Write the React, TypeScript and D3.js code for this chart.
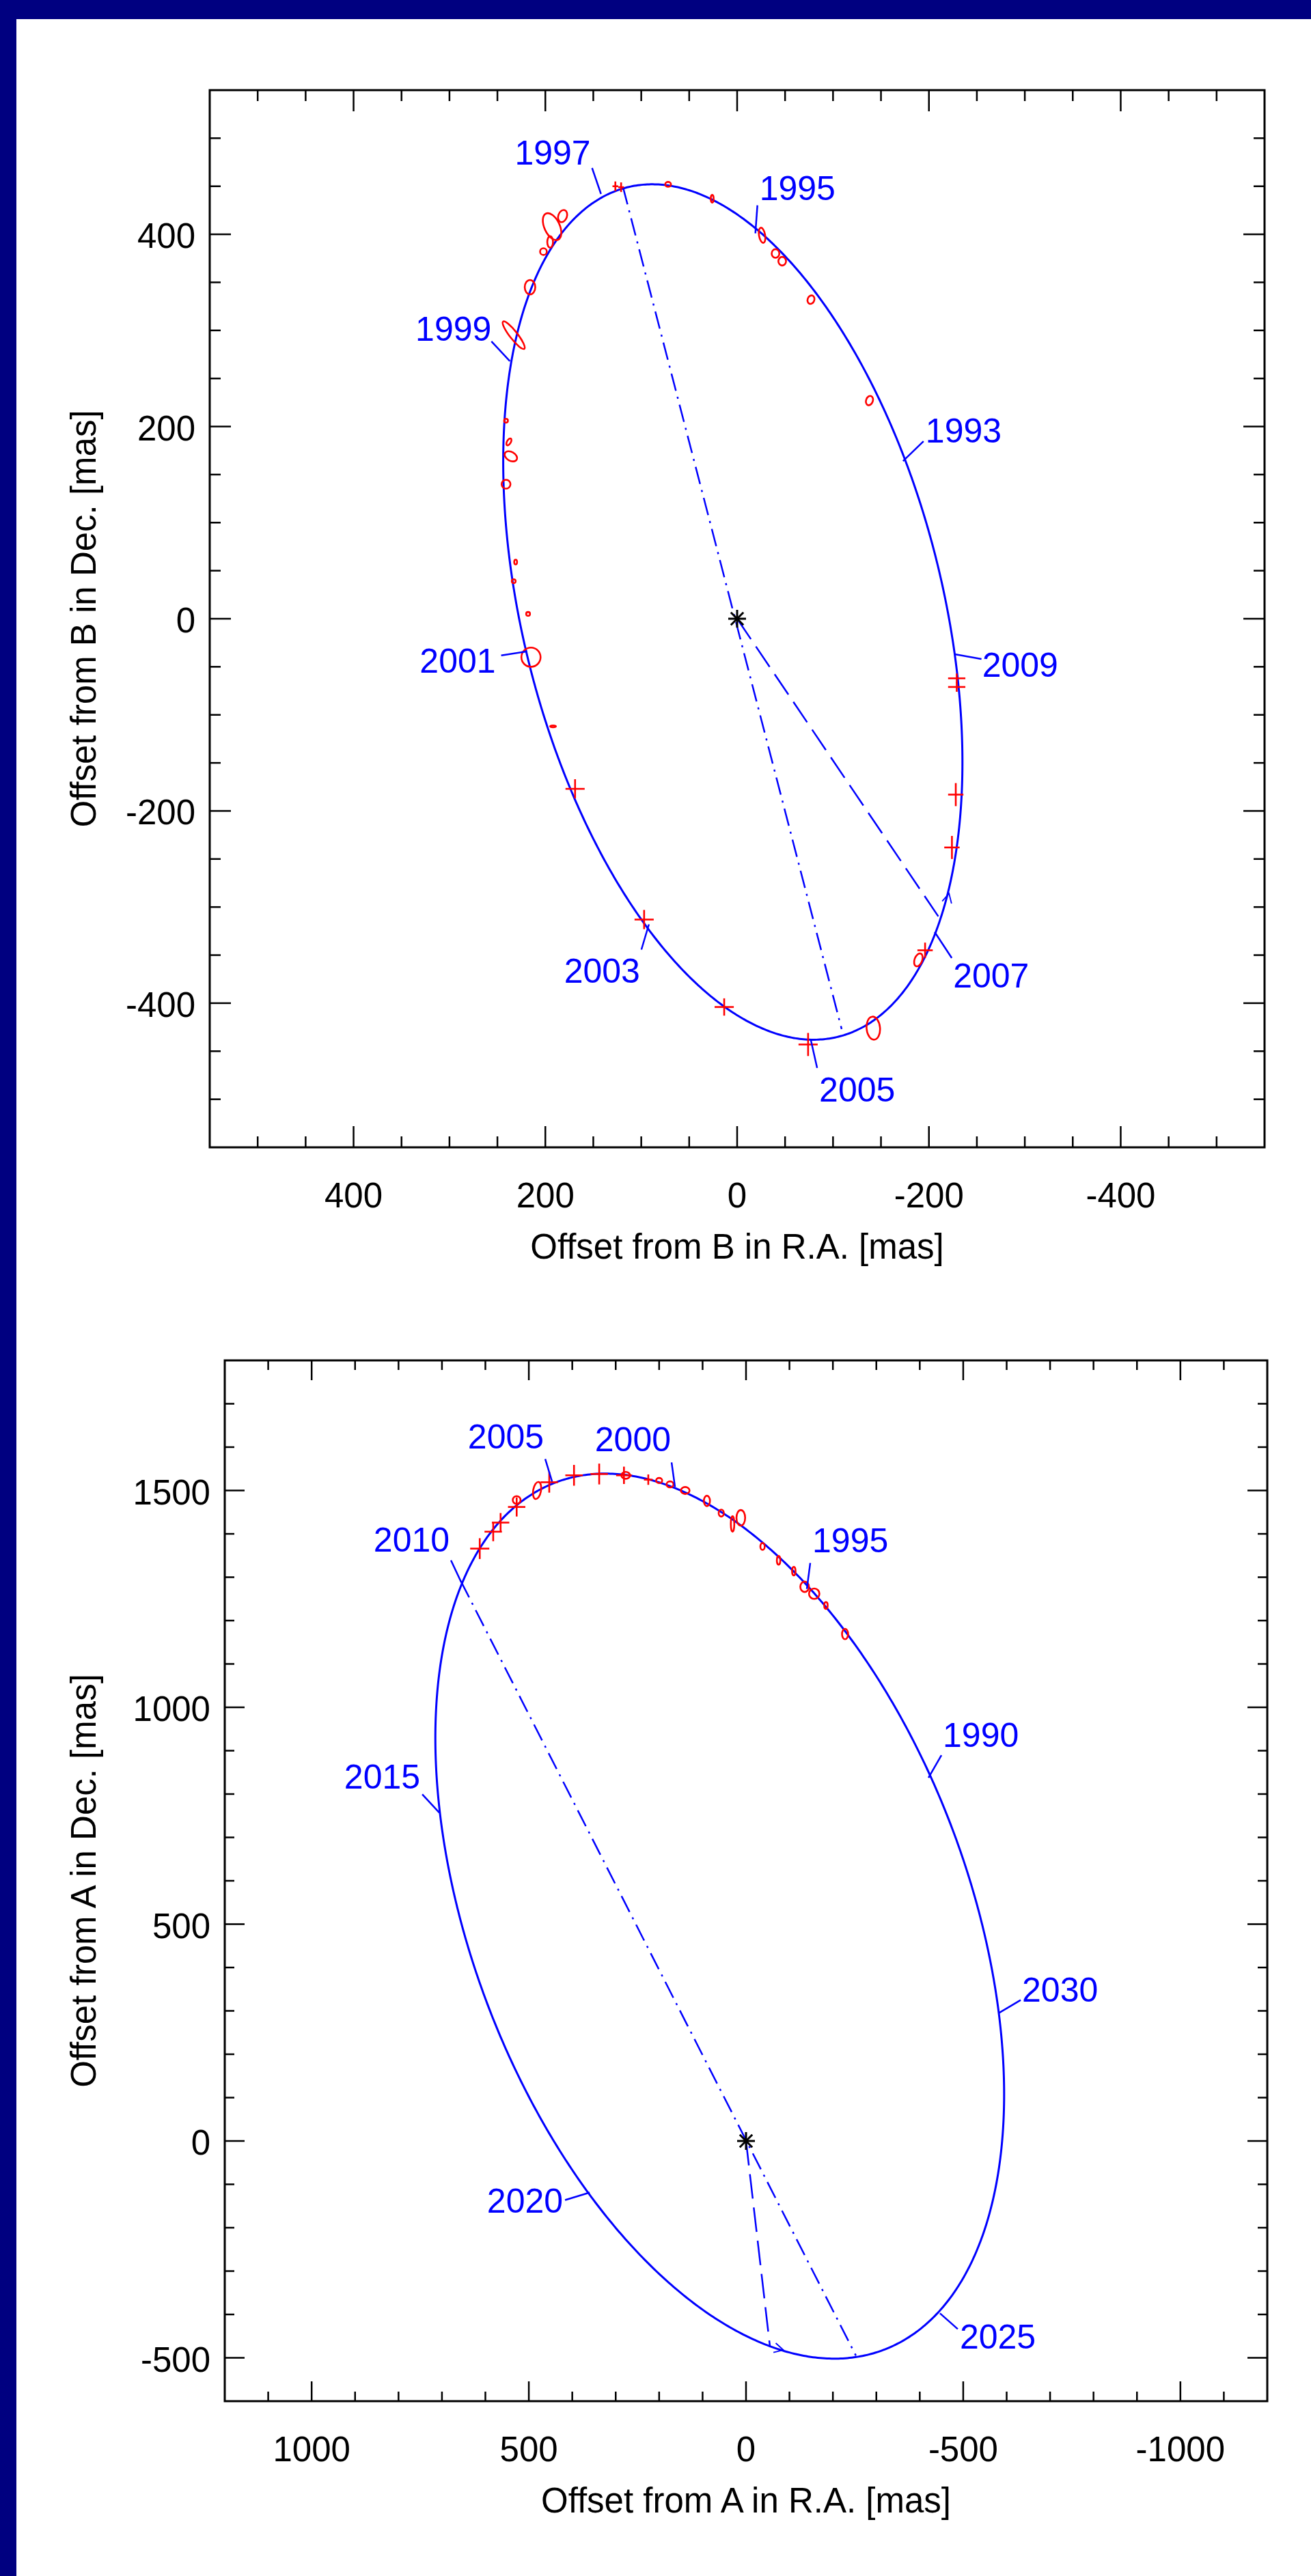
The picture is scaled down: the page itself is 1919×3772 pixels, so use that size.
import React from "react";
import * as d3 from "d3";

const WIDTH = 1919;
const HEIGHT = 3772;
const NAVY = "#000080";
const BLUE = "#0000ff";
const RED = "#ff0000";
const FONT = "'Liberation Sans', Arial, Helvetica, sans-serif";

// ---------- top panel : offsets from B ----------
const raDomainB = [550, -550];
const decDomainB = [-550, 550];
const majorTicksB = [-400, -200, 0, 200, 400];
const minorStepB = 50;

// apparent orbit: centre (ra, dec), semi-axes (mas), angle of major axis from +RA (deg)
const orbitB = { ra: 4.5, dec: 7, a: 455.4, b: 219.1, angle: 76 };
const nodeLineB = [[119, 449], [-109, -427]];
const periastronB = [-210, -310];
const motionB = [[-217, -302], [-221, -286]];

const epochsB = [1993, 1995, 1997, 1999, 2001, 2003, 2005, 2007, 2009];
const epochRaB = [-173, -19, 142, 237, 219, 92, -77, -206, -227];
const epochDecB = [164, 401, 442, 268, -34, -318, -439, -326, -37];

// ra, dec, error ra, error dec (mas)
const crossesB = [
  [169, -177, 10, 10],
  [97, -313, 10, 10],
  [13.5, -404, 10, 9],
  [-74, -443, 10, 12],
  [-196, -345, 8, 8],
  [-228, -183, 8, 12],
  [-224, -238, 8, 12],
  [-229, -62, 9, 5],
  [-229, -71, 9, 5],
  [127, 450, 3, 5],
  [121, 449, 3, 5],
];
// ra, dec, semi-axis ra, semi-axis dec (mas), tilt (deg)
const ellipsesB = [
  [72, 452, 3, 2.5, 0],
  [26, 437, 1.5, 4, 0],
  [-26, 399, 3.2, 8, -10],
  [-40, 380, 4, 4.5, 0],
  [-47, 372, 4, 4.5, 0],
  [-77, 332, 3.5, 4.5, 20],
  [-138, 227, 3.5, 5, 20],
  [182, 419, 4.5, 6.5, 20],
  [193, 408, 8, 15, -25],
  [195, 392, 3, 6, 0],
  [202, 382, 3.5, 3.5, 0],
  [216, 345, 5.5, 7.5, 0],
  [233, 295, 18, 4, 52],
  [241, 206, 2, 2, 0],
  [238, 184, 2, 4, 30],
  [236, 169, 7, 4.6, 30],
  [241, 140, 4.6, 4.6, 0],
  [231, 59, 1.5, 2.5, 0],
  [233, 39, 2, 2, 0],
  [218, 5, 2, 2, 0],
  [215, -40, 10, 10, 0],
  [192, -112, 3, 1, 0],
  [-142, -426, 7, 12, -5],
  [-189, -355, 4, 7, 20],
];

// ---------- bottom panel : offsets from A ----------
const raDomainA = [1200, -1200];
const decDomainA = [-600, 1800];
const majorTicksA = [-1000, -500, 0, 500, 1000, 1500];
const minorStepA = 100;

const orbitA = { ra: 60.5, dec: 518.5, a: 1069, b: 572, angle: 69.35 };
const nodeLineA = [[656, 1290], [-253, -495]];
const periastronA = [-55, -473];
const motionA = [[-62, -476], [-86, -482]];

const epochsA = [1990, 1995, 2000, 2005, 2010, 2015, 2020, 2025, 2030];
const epochRaA = [-420, -140, 163.5, 446.5, 655.7, 706, 360, -446.5, -582];
const epochDecA = [837.5, 1273, 1508, 1520.5, 1288.6, 757, -119, -397.5, 295];

const crossesA = [
  [613, 1366, 22, 24],
  [582, 1405, 20, 22],
  [565, 1426, 20, 22],
  [528, 1462, 20, 22],
  [453, 1519, 20, 24],
  [396, 1535, 20, 24],
  [338, 1538, 20, 24],
  [281, 1535, 18, 20],
  [225, 1525, 10, 12],
];
const ellipsesA = [
  [528, 1478, 9, 9, 0],
  [481, 1500, 9, 20, 10],
  [277, 1535, 10, 8, 0],
  [200, 1523, 7, 6, 0],
  [175, 1514, 8, 7, 0],
  [140, 1500, 10, 8, 0],
  [90, 1476, 7, 12, 0],
  [57, 1448, 6, 8, 0],
  [31, 1423, 4, 18, 0],
  [12, 1437, 10, 18, 0],
  [-38, 1371, 5, 8, 0],
  [-75, 1339, 4, 10, 0],
  [-110, 1314, 4, 10, 0],
  [-135, 1278, 10, 12, 0],
  [-157, 1262, 12, 12, 0],
  [-184, 1235, 4, 8, 0],
  [-228, 1169, 7, 12, 0],
];

// label leader (px from the orbit point) and text offset from leader end
const layoutB = [
  { lx: 30, ly: -29, anchor: "start", tx: 3, ty: 2 },
  { lx: 3, ly: -41, anchor: "start", tx: 3, ty: -8 },
  { lx: -13, ly: -38, anchor: "end", tx: -2, ty: -5 },
  { lx: -27, ly: -29, anchor: "end", tx: 0, ty: -1 },
  { lx: -38, ly: 6, anchor: "end", tx: -8, ty: 25 },
  { lx: -11, ly: 37, anchor: "end", tx: -2, ty: 48 },
  { lx: 9, ly: 40, anchor: "start", tx: 3, ty: 49 },
  { lx: 25, ly: 38, anchor: "start", tx: 2, ty: 43 },
  { lx: 39, ly: 7, anchor: "start", tx: 1, ty: 26 },
];
const layoutA = [
  { lx: 19, ly: -33, anchor: "start", tx: 2, ty: -12 },
  { lx: 5, ly: -38, anchor: "start", tx: 3, ty: -16 },
  { lx: -5, ly: -36, anchor: "end", tx: -1, ty: -16 },
  { lx: -10, ly: -33, anchor: "end", tx: -2, ty: -15 },
  { lx: -15, ly: -32, anchor: "end", tx: -2, ty: -13 },
  { lx: -25, ly: -27, anchor: "end", tx: -3, ty: -8 },
  { lx: -36, ly: 11, anchor: "end", tx: -3, ty: 18 },
  { lx: 26, ly: 23, anchor: "start", tx: 3, ty: 29 },
  { lx: 32, ly: -19, anchor: "start", tx: 2, ty: 2 },
];

function Panel(props: any) {
  const { box, raDomain, decDomain, major, minorStep, tickLen, orbit, nodes, peri, motion,
    epochs, epochRa, epochDec, layout, crosses, ellipses, xTitle, yTitle } = props;

  const x = d3.scaleLinear().domain(raDomain).range([box.left, box.right]);
  const y = d3.scaleLinear().domain(decDomain).range([box.bottom, box.top]);
  const kx = Math.abs(x(1) - x(0));
  const ky = Math.abs(y(1) - y(0));

  const th = (orbit.angle * Math.PI) / 180;
  const pts: [number, number][] = d3.range(0, 720).map((i) => {
    const t = (i / 720) * 2 * Math.PI;
    const u = orbit.a * Math.cos(t);
    const v = orbit.b * Math.sin(t);
    return [
      x(orbit.ra + u * Math.cos(th) - v * Math.sin(th)),
      y(orbit.dec + u * Math.sin(th) + v * Math.cos(th)),
    ];
  });
  const orbitPath = d3.line().curve(d3.curveLinearClosed)(pts) as string;

  const xlo = Math.min(...raDomain), xhi = Math.max(...raDomain);
  const ylo = Math.min(...decDomain), yhi = Math.max(...decDomain);
  const xTicks = d3.range(xlo + minorStep, xhi, minorStep);
  const yTicks = d3.range(ylo + minorStep, yhi, minorStep);
  const isMajor = (v: number) => major.includes(v);

  // motion arrow
  const tip = [x(motion[1][0]), y(motion[1][1])];
  const tail = [x(motion[0][0]), y(motion[0][1])];
  const len = Math.hypot(tip[0] - tail[0], tip[1] - tail[1]);
  const d = [(tip[0] - tail[0]) / len, (tip[1] - tail[1]) / len];
  const arm = (ang: number) => {
    const a = (ang * Math.PI) / 180;
    const rx = d[0] * Math.cos(a) - d[1] * Math.sin(a);
    const ry = d[0] * Math.sin(a) + d[1] * Math.cos(a);
    return [tip[0] - 15 * rx, tip[1] - 15 * ry];
  };
  const a1 = arm(28), a2 = arm(-28);

  const sx = x(0), sy = y(0);
  const cx = (box.left + box.right) / 2;
  const cy = (box.top + box.bottom) / 2;

  return (
    <g>
      {/* frame */}
      <rect x={box.left} y={box.top} width={box.right - box.left} height={box.bottom - box.top}
        fill="none" stroke="#000" strokeWidth={3} />
      <g stroke="#000" strokeWidth={2.5}>
        {xTicks.map((v) => {
          const l = isMajor(v) ? tickLen[0] : tickLen[1];
          return (
            <g key={"x" + v}>
              <line x1={x(v)} x2={x(v)} y1={box.bottom} y2={box.bottom - l} />
              <line x1={x(v)} x2={x(v)} y1={box.top} y2={box.top + l} />
            </g>
          );
        })}
        {yTicks.map((v) => {
          const l = isMajor(v) ? tickLen[0] : tickLen[1];
          return (
            <g key={"y" + v}>
              <line x1={box.left} x2={box.left + l} y1={y(v)} y2={y(v)} />
              <line x1={box.right} x2={box.right - l} y1={y(v)} y2={y(v)} />
            </g>
          );
        })}
      </g>
      <g fontSize={51} fill="#000">
        {xTicks.filter(isMajor).map((v) => (
          <text key={"xl" + v} x={x(v)} y={box.bottom + 88} textAnchor="middle">{String(v)}</text>
        ))}
        {yTicks.filter(isMajor).map((v) => (
          <text key={"yl" + v} x={box.left - 21} y={y(v) + 20} textAnchor="end">{String(v)}</text>
        ))}
        <text x={cx} y={box.bottom + 163} textAnchor="middle">{xTitle}</text>
        <text x={140} y={cy} textAnchor="middle" transform={`rotate(-90, 140, ${cy})`}>{yTitle}</text>
      </g>

      {/* orbit and lines */}
      <path d={orbitPath} fill="none" stroke={BLUE} strokeWidth={3} />
      <line x1={x(nodes[0][0])} y1={y(nodes[0][1])} x2={x(nodes[1][0])} y2={y(nodes[1][1])}
        stroke={BLUE} strokeWidth={2.5} strokeDasharray="26 9 3 9" />
      <line x1={sx} y1={sy} x2={x(peri[0])} y2={y(peri[1])}
        stroke={BLUE} strokeWidth={2.5} strokeDasharray="36 13" />
      <polyline points={`${a1[0]},${a1[1]} ${tip[0]},${tip[1]} ${a2[0]},${a2[1]}`}
        fill="none" stroke={BLUE} strokeWidth={1.8} />

      {/* observations */}
      <g stroke={RED} strokeWidth={2.6} fill="none">
        {ellipses.map((e: number[], i: number) => (
          <ellipse key={"e" + i} cx={x(e[0])} cy={y(e[1])} rx={e[2] * kx} ry={e[3] * ky}
            transform={`rotate(${e[4]}, ${x(e[0])}, ${y(e[1])})`} />
        ))}
        {crosses.map((c: number[], i: number) => (
          <g key={"c" + i}>
            <line x1={x(c[0] + c[2])} x2={x(c[0] - c[2])} y1={y(c[1])} y2={y(c[1])} />
            <line x1={x(c[0])} x2={x(c[0])} y1={y(c[1] - c[3])} y2={y(c[1] + c[3])} />
          </g>
        ))}
      </g>

      {/* epoch labels */}
      <g fontSize={50} fill={BLUE}>
        {epochs.map((yr: number, i: number) => {
          const px = x(epochRa[i]), py = y(epochDec[i]);
          const L = layout[i];
          const ex = px + L.lx, ey = py + L.ly;
          return (
            <g key={"yr" + yr}>
              <line x1={px} y1={py} x2={ex} y2={ey} stroke={BLUE} strokeWidth={2.5} />
              <text x={ex + L.tx} y={ey + L.ty} textAnchor={L.anchor}>{String(yr)}</text>
            </g>
          );
        })}
      </g>

      {/* central star */}
      <g stroke="#000" strokeWidth={3}>
        {[0, 45, 90, 135].map((ang) => {
          const r = (ang * Math.PI) / 180;
          return (
            <line key={"s" + ang} x1={sx - 13 * Math.cos(r)} y1={sy - 13 * Math.sin(r)}
              x2={sx + 13 * Math.cos(r)} y2={sy + 13 * Math.sin(r)} />
          );
        })}
      </g>
    </g>
  );
}

export default function App() {
  return (
    <svg width={WIDTH} height={HEIGHT} viewBox={`0 0 ${WIDTH} ${HEIGHT}`}
      style={{ position: "absolute", left: 0, top: 0, display: "block" }} fontFamily={FONT}>
      <rect x={0} y={0} width={WIDTH} height={HEIGHT} fill="#fff" />
      <rect x={0} y={0} width={WIDTH} height={28} fill={NAVY} />
      <rect x={0} y={0} width={24} height={HEIGHT} fill={NAVY} />
      <Panel
        box={{ left: 307, right: 1851, top: 132, bottom: 1680 }}
        raDomain={raDomainB} decDomain={decDomainB} major={majorTicksB} minorStep={minorStepB}
        tickLen={[31, 16]} orbit={orbitB} nodes={nodeLineB} peri={periastronB} motion={motionB}
        epochs={epochsB} epochRa={epochRaB} epochDec={epochDecB} layout={layoutB}
        crosses={crossesB} ellipses={ellipsesB}
        xTitle="Offset from B in R.A. [mas]" yTitle="Offset from B in Dec. [mas]"
      />
      <Panel
        box={{ left: 329, right: 1855, top: 1992, bottom: 3516 }}
        raDomain={raDomainA} decDomain={decDomainA} major={majorTicksA} minorStep={minorStepA}
        tickLen={[29, 14]} orbit={orbitA} nodes={nodeLineA} peri={periastronA} motion={motionA}
        epochs={epochsA} epochRa={epochRaA} epochDec={epochDecA} layout={layoutA}
        crosses={crossesA} ellipses={ellipsesA}
        xTitle="Offset from A in R.A. [mas]" yTitle="Offset from A in Dec. [mas]"
      />
    </svg>
  );
}
